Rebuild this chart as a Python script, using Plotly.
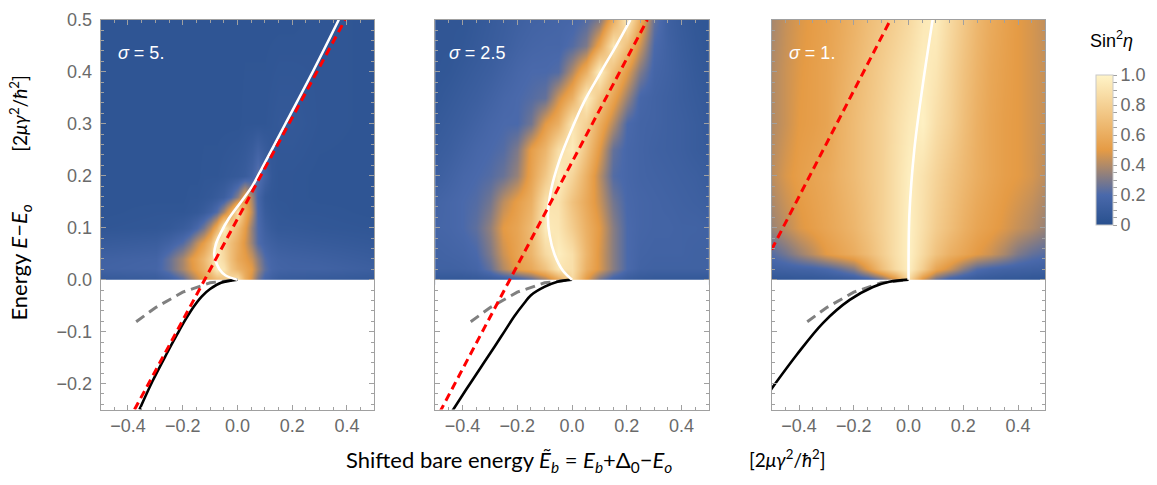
import plotly.graph_objects as go

W, H = 1157, 485

# ---------------- data ----------------
sigma_labels = ["5.", "2.5", "1."]

# sin^2(eta) (rows = energy, cols = shifted bare energy)
hm1_x = [-0.5, -0.3, -0.25, -0.2, -0.175, -0.15, -0.125, -0.1, -0.075, -0.05, -0.025,
         0.0, 0.025, 0.05, 0.075, 0.1, 0.125, 0.15, 0.2, 0.3, 0.5]
hm1_y = [0.0, 0.02, 0.04, 0.07, 0.10, 0.13, 0.16, 0.20, 0.30, 0.50]
hm1_z = [
    [.08, .10, .13, .22, .32, .42, .52, .60, .66, .72, .85, .90, .62, .45, .28, .17, .13, .10, .09, .08, .07],
    [.15, .17, .25, .38, .46, .54, .63, .76, .95, .92, .74, .64, .57, .50, .36, .24, .18, .16, .15, .15, .12],
    [.14, .16, .25, .38, .48, .56, .66, .80, .95, .85, .70, .58, .52, .45, .33, .22, .17, .15, .14, .13, .10],
    [.09, .11, .15, .22, .30, .42, .52, .66, .97, .82, .70, .60, .48, .35, .22, .16, .13, .11, .10, .09, .07],
    [.05, .06, .07, .10, .13, .19, .28, .42, .60, .97, .80, .68, .52, .34, .21, .13, .09, .07, .07, .06, .05],
    [.04, .05, .05, .05, .06, .07, .10, .15, .22, .38, .60, .90, .62, .42, .20, .10, .07, .06, .05, .05, .04],
    [.04, .04, .04, .04, .05, .05, .06, .07, .09, .12, .20, .32, .55, .38, .18, .08, .06, .05, .05, .04, .04],
    [.04, .04, .04, .04, .04, .04, .05, .05, .05, .06, .07, .08, .10, .15, .25, .15, .07, .05, .05, .04, .04],
    [.04, .04, .04, .04, .04, .04, .04, .04, .04, .04, .04, .04, .05, .05, .05, .05, .06, .07, .07, .05, .04],
    [.04, .04, .04, .04, .04, .04, .04, .04, .04, .04, .04, .04, .04, .04, .04, .04, .04, .04, .04, .05, .04],
]

hm2_x = [-0.5, -0.45, -0.4, -0.35, -0.3, -0.25, -0.2, -0.15, -0.1, -0.05, 0.0,
         0.05, 0.1, 0.15, 0.2, 0.25, 0.3, 0.35, 0.4, 0.45, 0.5]
hm2_y = [0.0, 0.02, 0.05, 0.10, 0.15, 0.20, 0.25, 0.30, 0.35, 0.40, 0.45, 0.50]
hm2_z = [
    [.07, .07, .07, .08, .09, .10, .14, .22, .35, .55, .85, .50, .28, .15, .10, .08, .07, .07, .07, .07, .07],
    [.14, .14, .15, .17, .25, .40, .52, .58, .72, .92, .88, .62, .48, .32, .20, .15, .14, .14, .14, .14, .14],
    [.15, .16, .17, .20, .30, .45, .55, .65, .85, .97, .88, .65, .48, .32, .20, .16, .15, .15, .15, .14, .14],
    [.17, .18, .20, .24, .34, .50, .56, .68, .95, .92, .78, .62, .50, .32, .20, .17, .16, .16, .15, .15, .14],
    [.16, .18, .20, .22, .28, .42, .52, .62, .90, .90, .72, .58, .45, .28, .19, .17, .16, .15, .14, .13, .12],
    [.12, .15, .18, .20, .22, .26, .35, .55, .75, .97, .82, .62, .42, .22, .18, .16, .15, .14, .13, .12, .10],
    [.10, .12, .15, .18, .20, .22, .30, .52, .65, .88, .95, .72, .50, .25, .18, .16, .14, .13, .12, .10, .09],
    [.08, .10, .12, .15, .18, .20, .20, .28, .50, .62, .92, .80, .60, .40, .20, .16, .15, .13, .12, .10, .08],
    [.06, .08, .10, .12, .15, .18, .20, .22, .25, .45, .62, .97, .75, .55, .35, .18, .15, .13, .11, .09, .07],
    [.05, .06, .08, .10, .12, .15, .18, .20, .20, .22, .40, .62, .97, .70, .50, .30, .17, .14, .11, .08, .06],
    [.05, .05, .06, .08, .10, .12, .15, .17, .18, .18, .22, .30, .55, .92, .70, .45, .20, .14, .10, .07, .05],
    [.05, .05, .05, .07, .09, .11, .13, .15, .16, .17, .18, .22, .30, .60, .95, .60, .25, .13, .09, .06, .05],
]

hm3_x = hm2_x
hm3_y = [0.0, 0.02, 0.05, 0.10, 0.20, 0.30, 0.40, 0.50]
hm3_z = [
    [.05, .05, .06, .06, .07, .08, .10, .14, .25, .45, .85, .45, .25, .14, .10, .08, .07, .06, .06, .05, .05],
    [.14, .15, .16, .17, .20, .25, .32, .50, .70, .85, .97, .78, .56, .45, .32, .22, .18, .16, .15, .14, .13],
    [.22, .28, .35, .42, .50, .55, .60, .68, .78, .88, .98, .85, .72, .62, .56, .50, .45, .38, .30, .25, .22],
    [.36, .42, .48, .52, .56, .60, .65, .72, .80, .88, .98, .88, .78, .70, .62, .56, .52, .48, .44, .40, .35],
    [.42, .48, .52, .55, .58, .63, .68, .74, .80, .88, .97, .90, .82, .74, .67, .61, .56, .52, .50, .47, .42],
    [.40, .45, .50, .52, .55, .62, .68, .74, .80, .87, .94, .98, .88, .80, .70, .62, .56, .52, .50, .47, .44],
    [.40, .45, .49, .52, .55, .60, .66, .72, .78, .84, .90, .97, .92, .82, .72, .64, .57, .53, .50, .47, .44],
    [.38, .44, .48, .51, .54, .58, .63, .69, .74, .79, .85, .93, .96, .85, .75, .66, .59, .54, .50, .47, .43],
]

# resonance (white), bound state (black), approximations (red dashed, grey dashed)
white1_x = [0.0, -0.043, -0.066, -0.082, -0.085, -0.079, -0.061, -0.031, 0.012, 0.054, 0.075, 0.175, 0.275, 0.37]
white1_y = [0.0, 0.008, 0.02, 0.04, 0.05, 0.068, 0.09, 0.118, 0.149, 0.18, 0.2, 0.3, 0.4, 0.5]
black1_x = [0.0, -0.06, -0.10, -0.13, -0.16, -0.19, -0.22, -0.26, -0.31, -0.358]
black1_y = [0.0, -0.006, -0.018, -0.032, -0.052, -0.077, -0.105, -0.144, -0.195, -0.25]
red1_x = [-0.376, 0.393]
red1_y = [-0.25, 0.5]

white2_x = [0.0, -0.033, -0.064, -0.082, -0.088, -0.076, -0.045, -0.003, 0.045, 0.106, 0.161, 0.213]
white2_y = [0.0, 0.017, 0.049, 0.086, 0.124, 0.174, 0.231, 0.287, 0.343, 0.400, 0.450, 0.5]
black2_x = [0.0, -0.053, -0.101, -0.15, -0.174, -0.21, -0.247, -0.283, -0.332, -0.386, -0.44]
black2_y = [0.0, -0.004, -0.014, -0.03, -0.045, -0.07, -0.10, -0.129, -0.168, -0.211, -0.255]
red2_x = [-0.483, 0.275]
red2_y = [-0.255, 0.5]

white3_x = [0.0, 0.003, 0.021, 0.052, 0.088]
white3_y = [0.0, 0.124, 0.25, 0.375, 0.5]
black3_x = [0.0, -0.07, -0.13, -0.215, -0.312, -0.409, -0.506]
black3_y = [0.0, -0.004, -0.014, -0.039, -0.083, -0.145, -0.214]
red3_x = [-0.5, -0.066]
red3_y = [0.058, 0.5]

grey_x = [-0.37, -0.3, -0.2, -0.1, 0.0]
grey_y = [-0.081, -0.054, -0.024, -0.006, 0.0]

panels = [
    dict(hx=hm1_x, hy=hm1_y, hz=hm1_z, wx=white1_x, wy=white1_y, bx=black1_x, by=black1_y, rx=red1_x, ry=red1_y),
    dict(hx=hm2_x, hy=hm2_y, hz=hm2_z, wx=white2_x, wy=white2_y, bx=black2_x, by=black2_y, rx=red2_x, ry=red2_y),
    dict(hx=hm3_x, hy=hm3_y, hz=hm3_z, wx=white3_x, wy=white3_y, bx=black3_x, by=black3_y, rx=red3_x, ry=red3_y),
]

# ---------------- styling ----------------
colorscale = [[0.0, "#28508e"], [0.2, "#4a69ab"], [0.5, "#e59b45"], [1.0, "#fff4c8"]]
frame = "#a0a0a0"
tickfont = dict(family="Liberation Sans, Arial, sans-serif", size=18, color="#6a6a6a")
titlefont = dict(family="Lato, Open Sans, sans-serif", size=22, color="#000000")
unitfont = dict(family="Lato, Open Sans, sans-serif", size=19, color="#000000")

left_px = [101, 437, 775]
label_off = [16, 12, 15]
pw = 275
top_px, bot_px = 10, 408

fig = go.Figure()

for i, p in enumerate(panels):
    xa = "x" if i == 0 else f"x{i+1}"
    ya = "y" if i == 0 else f"y{i+1}"
    fig.add_trace(go.Heatmap(x=p["hx"], y=p["hy"], z=p["hz"], coloraxis="coloraxis",
                             zsmooth="best", xaxis=xa, yaxis=ya, hoverinfo="skip"))
    # white mask over the E<0 half
    fig.add_trace(go.Scatter(x=[-0.6, 0.6, 0.6, -0.6], y=[-0.3, -0.3, 0.0, 0.0], fill="toself",
                             fillcolor="white", line=dict(width=0), mode="lines",
                             xaxis=xa, yaxis=ya, hoverinfo="skip", showlegend=False))
    fig.add_trace(go.Scatter(x=grey_x, y=grey_y, mode="lines",
                             line=dict(color="#808080", width=3, dash="10px,6px"),
                             xaxis=xa, yaxis=ya, showlegend=False))
    fig.add_trace(go.Scatter(x=p["bx"], y=p["by"], mode="lines", line=dict(color="black", width=2.6, shape="spline"),
                             xaxis=xa, yaxis=ya, showlegend=False))
    fig.add_trace(go.Scatter(x=p["wx"], y=p["wy"], mode="lines", line=dict(color="white", width=2.6, shape="spline"),
                             xaxis=xa, yaxis=ya, showlegend=False))
    fig.add_trace(go.Scatter(x=p["rx"], y=p["ry"], mode="lines",
                             line=dict(color="#ff0000", width=3, dash="8px,5px"),
                             xaxis=xa, yaxis=ya, showlegend=False))

    xdom = [left_px[i] / W, (left_px[i] + pw) / W]
    ydom = [1 - bot_px / H, 1 - top_px / H]
    xax = dict(domain=xdom, range=[-0.5, 0.5], anchor=ya, showgrid=False, zeroline=False,
               showline=True, linecolor=frame, linewidth=1, mirror="ticks",
               ticks="inside", ticklen=5, tickcolor=frame, tickmode="linear", tick0=0, dtick=0.2,
               tickformat=".1f", tickfont=tickfont, ticklabelstandoff=0,
               minor=dict(ticks="inside", ticklen=3, tickcolor=frame, tickmode="linear", tick0=0, dtick=0.05))
    yax = dict(domain=ydom, range=[-0.25, 0.5], anchor=xa, showgrid=False, zeroline=False,
               showline=True, linecolor=frame, linewidth=1, mirror="ticks",
               ticks="inside", ticklen=5, tickcolor=frame, tickmode="linear", tick0=0, dtick=0.1,
               tickformat=".1f", tickfont=tickfont, showticklabels=(i == 0), ticklabelstandoff=4,
               minor=dict(ticks="inside", ticklen=3, tickcolor=frame, tickmode="linear", tick0=0, dtick=0.02))
    fig.layout[("xaxis" if i == 0 else f"xaxis{i+1}")] = xax
    fig.layout[("yaxis" if i == 0 else f"yaxis{i+1}")] = yax

    fig.add_annotation(text=f"<i>σ</i> = {sigma_labels[i]}", xref="paper", yref="paper",
                       x=(left_px[i] + label_off[i]) / W, y=1 - 44 / H, xanchor="left", yanchor="middle",
                       showarrow=False, font=dict(family="Liberation Sans, Arial, sans-serif", size=18, color="white"))

cb_vals = [round(0.05 * k, 2) for k in range(21)]
cb_text = [("0" if v == 0 else f"{v:.1f}") if abs(v * 5 - round(v * 5)) < 1e-9 else "" for v in cb_vals]

fig.update_layout(
    width=W, height=H, margin=dict(l=0, r=0, t=0, b=0),
    paper_bgcolor="white", plot_bgcolor="white", showlegend=False,
    coloraxis=dict(colorscale=colorscale, cmin=0, cmax=1,
                   colorbar=dict(x=1091 / W, xanchor="left", y=1 - 143 / H, yanchor="middle",
                                 thickness=17, thicknessmode="pixels", len=170, lenmode="pixels",
                                 outlinewidth=1, outlinecolor="#c8c8c8",
                                 tickmode="array", tickvals=cb_vals, ticktext=cb_text,
                                 ticks="outside", ticklen=4, tickcolor=frame,
                                 tickfont=tickfont)),
)

# axis titles
fig.add_annotation(text="Shifted bare energy <i>Ẽ</i><sub><i>b</i></sub> = <i>E</i><sub><i>b</i></sub>+Δ<sub>0</sub>−<i>E</i><sub><i>o</i></sub>",
                   xref="paper", yref="paper", x=511 / W, y=1 - 460 / H, xanchor="center", yanchor="middle",
                   showarrow=False, font=titlefont)
fig.add_annotation(text="[2<i>μγ</i><sup>2</sup>/<i>ħ</i><sup>2</sup>]",
                   xref="paper", yref="paper", x=791 / W, y=1 - 458 / H, xanchor="center", yanchor="middle",
                   showarrow=False, font=unitfont)
fig.add_annotation(text="Energy <i>E</i>−<i>E</i><sub><i>o</i></sub>",
                   xref="paper", yref="paper", x=20 / W, y=1 - 258 / H, xanchor="center", yanchor="middle",
                   textangle=-90, showarrow=False, font=titlefont)
fig.add_annotation(text="[2<i>μγ</i><sup>2</sup>/<i>ħ</i><sup>2</sup>]",
                   xref="paper", yref="paper", x=19 / W, y=1 - 105 / H, xanchor="center", yanchor="middle",
                   textangle=-90, showarrow=False, font=unitfont)
fig.add_annotation(text="Sin<sup>2</sup><i>η</i>", xref="paper", yref="paper", x=1116 / W, y=1 - 30 / H,
                   xanchor="center", yanchor="middle", showarrow=False,
                   font=dict(family="Liberation Sans, Arial, sans-serif", size=18, color="#000000"))

fig.write_html("out.html")
